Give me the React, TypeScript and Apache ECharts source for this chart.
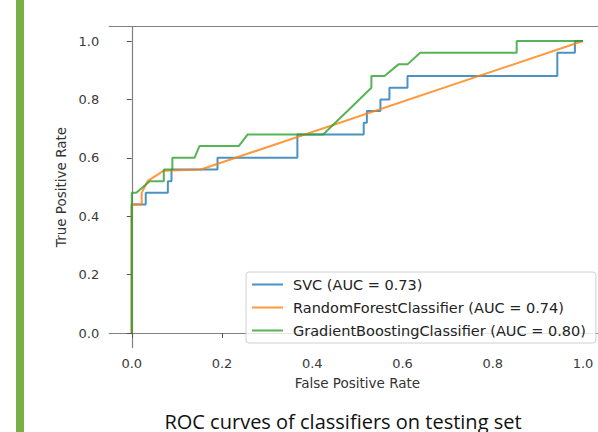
import React, { useEffect, useRef } from "react";
import * as echarts from "echarts";

const seriesNames = [
  "SVC (AUC = 0.73)",
  "RandomForestClassifier (AUC = 0.74)",
  "GradientBoostingClassifier (AUC = 0.80)",
];

const svcPoints: [number, number][] = [
  [0, 0], [0, 0.44], [0.031, 0.44], [0.031, 0.48], [0.08, 0.48], [0.08, 0.52],
  [0.088, 0.52], [0.088, 0.56], [0.19, 0.56], [0.19, 0.6], [0.367, 0.6],
  [0.367, 0.68], [0.514, 0.68], [0.514, 0.72], [0.521, 0.72], [0.521, 0.76],
  [0.551, 0.76], [0.551, 0.8], [0.571, 0.8], [0.571, 0.84], [0.611, 0.84],
  [0.611, 0.88], [0.943, 0.88], [0.943, 0.96], [0.982, 0.96], [0.982, 1.0],
  [1.0, 1.0],
];

const rfPoints: [number, number][] = [
  [0, 0], [0, 0.44], [0.022, 0.44], [0.022, 0.48], [0.035, 0.52],
  [0.071, 0.556], [0.153, 0.56], [1.0, 1.0],
];

const gbPoints: [number, number][] = [
  [0, 0], [0, 0.48], [0.01, 0.48], [0.04, 0.52], [0.071, 0.52], [0.071, 0.56],
  [0.09, 0.56], [0.09, 0.6], [0.139, 0.6], [0.15, 0.64], [0.237, 0.64],
  [0.257, 0.68], [0.424, 0.68], [0.478, 0.76], [0.531, 0.84], [0.531, 0.88],
  [0.56, 0.88], [0.591, 0.92], [0.611, 0.92], [0.639, 0.96], [0.853, 0.96],
  [0.853, 1.0], [1.0, 1.0],
];

const tickValues = [0, 0.2, 0.4, 0.6, 0.8, 1.0];
const colors = ["#1f77b4", "#ff7f0e", "#2ca02c"];
const caption = "ROC curves of classifiers on testing set";
const xName = "False Positive Rate";
const yName = "True Positive Rate";

export default function App() {
  const ref = useRef<HTMLDivElement>(null);
  useEffect(() => {
    if (!ref.current) return;
    const chart = echarts.init(ref.current, null, { renderer: "svg" });
    const spine = { show: true, lineStyle: { color: "#808080", width: 1.2 } };
    const axisCommon = {
      type: "value" as const,
      min: -0.05,
      max: 1.05,
      splitLine: { show: false },
      axisLine: spine,
      axisTick: {
        show: true,
        length: 5,
        customValues: tickValues,
        lineStyle: { color: "#555", width: 1 },
      },
      nameLocation: "middle" as const,
      nameTextStyle: { fontFamily: "DejaVu Sans", fontSize: 13.5, color: "#333" },
    };
    const labelCommon = {
      customValues: tickValues,
      formatter: (v: number) => v.toFixed(1),
      fontFamily: "DejaVu Sans",
      fontSize: 13,
      color: "#3a3a3a",
    };
    const all = [svcPoints, rfPoints, gbPoints];
    chart.setOption({
      animation: false,
      grid: {
        left: 109.2,
        top: 26.4,
        width: 496.4,
        height: 321.2,
        outerBoundsMode: "none",
        containLabel: false,
        show: false,
      },
      xAxis: [
        {
          ...axisCommon,
          name: xName,
          nameGap: 28,
          axisLabel: { ...labelCommon, margin: 9 },
        },
        {
          type: "value",
          position: "top",
          min: -0.05,
          max: 1.05,
          axisLine: spine,
          axisTick: { show: false },
          axisLabel: { show: false },
          splitLine: { show: false },
        },
      ],
      yAxis: {
        ...axisCommon,
        name: yName,
        nameGap: 40,
        axisLabel: { ...labelCommon, margin: 10 },
      },
      legend: {
        orient: "vertical",
        left: 246,
        top: 272,
        icon: "rect",
        itemWidth: 31,
        itemHeight: 2,
        itemGap: 8,
        padding: [5, 10, 5, 6],
        backgroundColor: "rgba(255,255,255,0.8)",
        borderColor: "#d0d0d0",
        borderWidth: 1,
        borderRadius: 3,
        textStyle: {
          fontFamily: "DejaVu Sans",
          fontSize: 14.5,
          color: "#222",
          lineHeight: 14,
          padding: [0, 0, 0, 5],
        },
        data: seriesNames,
      },
      series: seriesNames.map((name, i) => ({
        name,
        type: "line",
        data: all[i],
        showSymbol: false,
        symbol: "none",
        color: colors[i],
        lineStyle: { width: 2, opacity: 0.8, color: colors[i] },
        itemStyle: { color: colors[i], opacity: 0.8 },
        z: 2 + i,
      })),
      graphic: [
        {
          type: "rect",
          shape: { x: 16, y: 0, width: 8, height: 432 },
          style: { fill: "#7aaf45" },
        },
        {
          type: "text",
          x: 343,
          y: 421,
          style: {
            text: caption,
            fontFamily: "Open Sans",
            fontSize: 20,
            fill: "#111",
            textAlign: "center",
            textVerticalAlign: "middle",
          },
        },
      ],
    });
    return () => chart.dispose();
  }, []);
  return (
    <div
      ref={ref}
      style={{ position: "absolute", left: 0, top: 0, width: 598, height: 432 }}
    />
  );
}
